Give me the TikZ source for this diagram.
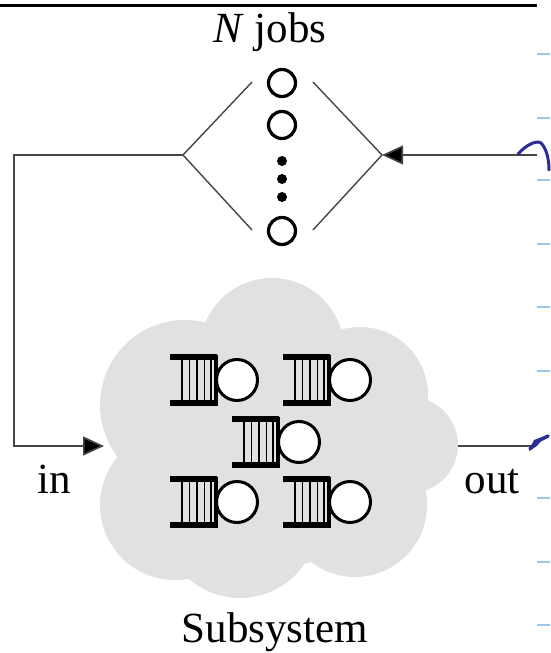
\documentclass[tikz,border=0pt]{standalone}
\usepackage{fontspec}
\setmainfont{Liberation Serif}
\usetikzlibrary{arrows.meta}
\definecolor{cloudgray}{RGB}{224,225,227}
\definecolor{pen}{RGB}{45,45,150}
\definecolor{tick}{RGB}{150,200,245}
\definecolor{armgray}{RGB}{70,70,70}
\tikzset{
  lbl/.style={font=\fontsize{43}{50}\selectfont, inner sep=0pt, anchor=base},
  ring/.style={circle, draw, line width=3.2pt, minimum size=27pt, inner sep=0pt},
  dot/.style={circle, fill, minimum size=10pt, inner sep=0pt},
  arm/.style={draw=armgray, line width=1.4pt},
  wire/.style={draw=armgray, line width=1.6pt},
  tip/.style={-{Triangle[length=21pt,width=19pt,fill=black]}},
  queue/.pic={
    \draw[line width=5.5pt] (0,-23) -- (47,-23) (0,23) -- (47,23);
    \draw[line width=3.5pt] (46,-25.5) -- (46,25.5);
    \foreach \xx in {12,19.5,27,34.5,41} \draw[line width=1.7pt] (\xx,-23) -- (\xx,23);
    \draw[line width=3pt, fill=white] (67,0) circle (20.5pt);
  }
}
\begin{document}
\begin{tikzpicture}[x=1pt,y=-1pt]
\useasboundingbox (0,0) rectangle (550,653);
% top rule
\draw[line width=3pt] (0,5) -- (537,5);
% light ticks at the right edge
\foreach \ty in {54,118,180,244,307,371,498,562,625}
  \draw[tick, line width=2.5pt] (537,\ty) -- (550,\ty);
% title
\node[lbl] (title) at (270,42) {\textit{N} jobs};
% fork
\node[ring] (j1) at (282,83) {};
\node[ring] (j2) at (282,125) {};
\node[dot] (d1) at (282,161) {};
\node[dot] (d2) at (282,179) {};
\node[dot] (d3) at (282,197) {};
\node[ring] (j3) at (282,231) {};
\coordinate (lv) at (183,155);
\coordinate (rv) at (382,155);
\coordinate (lu) at (252,82);
\coordinate (ll) at (252,230);
\coordinate (ru) at (313,82);
\coordinate (rl) at (313,230);
\draw[arm] (lu) -- (lv) -- (ll);
\draw[arm] (ru) -- (rv) -- (rl);
% cloud
\begin{scope}
\fill[cloudgray] (272,350) circle (72pt);
\fill[cloudgray] (185,405) circle (85pt);
\fill[cloudgray] (175,505) circle (75pt);
\fill[cloudgray] (240,520) circle (78pt);
\fill[cloudgray] (355,505) circle (72pt);
\fill[cloudgray] (410,445) circle (48pt);
\fill[cloudgray] (360,395) circle (68pt);
\fill[cloudgray] (285,445) circle (120pt);
\end{scope}
\coordinate (cin) at (104,446);
\coordinate (cout) at (458,446);
% queues
\pic at (170,380) {queue};
\pic at (283,380) {queue};
\pic at (232,442) {queue};
\pic at (170,502) {queue};
\pic at (283,502) {queue};
% connectors
\coordinate (corner1) at (14,155);
\coordinate (corner2) at (14,446);
\draw[wire, tip] (lv) -- (corner1) -- (corner2) -- (cin);
\coordinate (feed) at (537,155);
\draw[wire, tip] (feed) -- (rv);
\coordinate (outend) at (533,446);
\draw[wire] (cout) -- (outend);
% labels
\node[lbl] (in) at (54,493) {in};
\node[lbl] (out) at (492,493) {out};
\node[lbl] (sub) at (275,642) {Subsystem};
% pen marks
\draw[pen, line width=3pt, line cap=round] (518,154) .. controls (526,145) and (536,140) .. (541,143) .. controls (546,148) and (549,158) .. (549,170);
\draw[pen, line width=3.5pt, line cap=round] (530,449) -- (536,442) -- (548,436);
\fill[pen] (529,451) -- (534,440) -- (545,436) -- (537,446) -- cycle;
\end{tikzpicture}
\end{document}
